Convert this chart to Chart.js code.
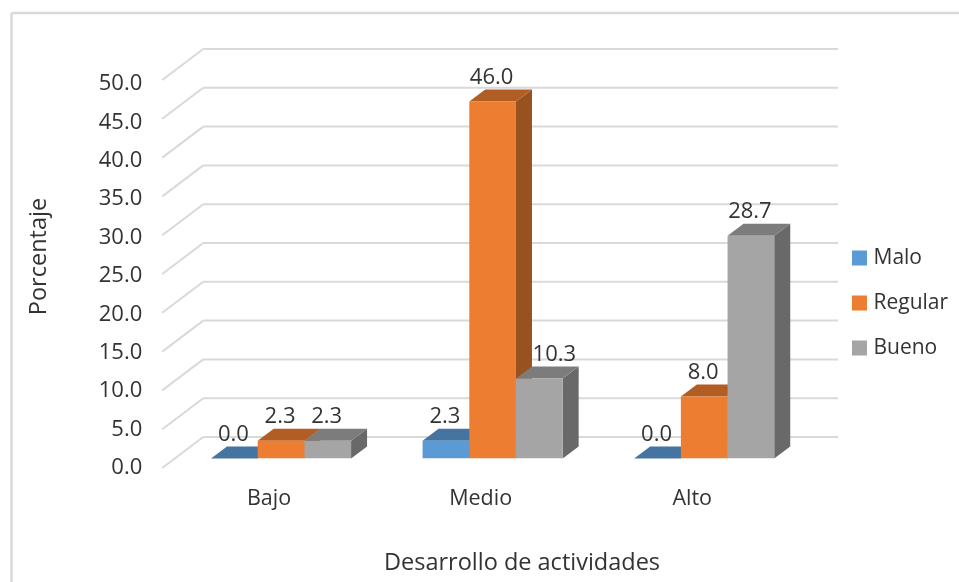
<!DOCTYPE html>
<html lang="es">
<head>
<meta charset="utf-8">
<title>Desarrollo de actividades</title>
<script src="https://cdn.jsdelivr.net/npm/chart.js@4/dist/chart.umd.min.js"></script>
<style>
  html, body { margin: 0; background: #fff; }
  canvas { display: block; }
</style>
</head>
<body>
<canvas id="grafica" width="959" height="582"></canvas>
<script>
// Datos
const categorias = ['Bajo', 'Medio', 'Alto'];
const malo = [0.0, 2.3, 0.0];
const regular = [2.3, 46.0, 8.0];
const bueno = [2.3, 10.3, 28.7];
const marcasY = [0, 5, 10, 15, 20, 25, 30, 35, 40, 45, 50];
const tituloX = 'Desarrollo de actividades';
const tituloY = 'Porcentaje';

// Colores de cada serie: frente, tapa y lateral
const colorFrente = ['#5B9BD5', '#ED7D31', '#A5A5A5'];
const colorTapa = ['#44749F', '#B15D24', '#7C7C7C'];
const colorLado = ['#3B6690', '#97521F', '#696969'];

const fuente = '"Open Sans"';
const tamFuente = 22;
const tamTitulo = 23.5;
const colorTexto = '#333333';
const colorRejilla = '#D9D9D9';

// Profundidad de las barras y de la "caja" 3D
const barraDx = 16, barraDy = 12;
const frenteDx = -13, frenteDy = 9.5;
const fondoDx = 28, fondoDy = -21.5;

function linea(ctx, x1, y1, x2, y2) {
  ctx.beginPath();
  ctx.moveTo(x1, y1);
  ctx.lineTo(x2, y2);
  ctx.stroke();
}

function cara(ctx, color, puntos) {
  ctx.fillStyle = color;
  ctx.beginPath();
  puntos.forEach(function (p, i) {
    if (i === 0) ctx.moveTo(p[0], p[1]); else ctx.lineTo(p[0], p[1]);
  });
  ctx.closePath();
  ctx.fill();
}

// Marco, rejilla en perspectiva, caras 3D, valores y titulos de ejes
const efecto3d = {
  id: 'efecto3d',
  afterLayout: function (chart) {
    // la leyenda va a la altura de las barras, no centrada
    const lg = chart.legend;
    lg.left = 856 - lg.options.labels.padding;
    lg.top = 247.5 - lg.options.labels.padding;
    lg.right = 959;
    lg.bottom = 582;
  },
  beforeDraw: function (chart) {
    const ctx = chart.ctx;
    ctx.save();
    ctx.strokeStyle = colorRejilla;
    ctx.lineWidth = 2.5;
    linea(ctx, 11.5, 13, 959, 13);
    linea(ctx, 11.5, 13, 11.5, 582);
    ctx.restore();
  },
  beforeDatasetsDraw: function (chart) {
    const ctx = chart.ctx;
    const area = chart.chartArea;
    const y = chart.scales.y;
    ctx.save();
    ctx.strokeStyle = colorRejilla;
    ctx.lineWidth = 2;
    marcasY.forEach(function (v) {
      const py = y.getPixelForValue(v);
      linea(ctx, area.left + frenteDx, py + frenteDy, area.left + fondoDx, py + fondoDy);
      linea(ctx, area.left + fondoDx, py + fondoDy, area.right + fondoDx, py + fondoDy);
    });
    // tapas y laterales, de izquierda a derecha; el frente lo pinta Chart.js encima
    categorias.forEach(function (c, j) {
      chart.data.datasets.forEach(function (ds, i) {
        const b = chart.getDatasetMeta(i).data[j];
        const izq = b.x - b.width / 2, der = b.x + b.width / 2;
        cara(ctx, colorLado[i], [[der, b.y], [der + barraDx, b.y - barraDy],
          [der + barraDx, b.base - barraDy], [der, b.base]]);
        cara(ctx, colorTapa[i], [[izq, b.y], [izq + barraDx, b.y - barraDy],
          [der + barraDx, b.y - barraDy], [der, b.y]]);
      });
    });
    ctx.restore();
  },
  afterDatasetsDraw: function (chart) {
    const ctx = chart.ctx;
    const sets = chart.data.datasets;
    ctx.save();
    ctx.fillStyle = colorTexto;
    ctx.font = tamFuente + 'px ' + fuente;
    ctx.textAlign = 'center';
    ctx.textBaseline = 'middle';
    sets.forEach(function (ds, i) {
      chart.getDatasetMeta(i).data.forEach(function (b, j) {
        // si la barra de al lado es mas alta, la etiqueta se corre para no pisarla
        const corre = i > 0 && sets[i - 1].data[j] > ds.data[j] ? 16 : 0;
        ctx.fillText(ds.data[j].toFixed(1), b.x - 1 + corre, b.y - 24);
      });
    });
    ctx.font = tamTitulo + 'px ' + fuente;
    ctx.fillText(tituloX, 522, 563);
    ctx.translate(39, 256.5);
    ctx.rotate(-Math.PI / 2);
    ctx.fillText(tituloY, 0, 0);
    ctx.restore();
  }
};

function serie(nombre, valores, i) {
  return { label: nombre, data: valores, backgroundColor: colorFrente[i], borderWidth: 0 };
}

const grafica = new Chart(document.getElementById('grafica').getContext('2d'), {
  type: 'bar',
  data: {
    labels: categorias,
    datasets: [serie('Malo', malo, 0), serie('Regular', regular, 1), serie('Bueno', bueno, 2)]
  },
  plugins: [efecto3d],
  options: {
    responsive: false,
    animation: false,
    barPercentage: 1,
    categoryPercentage: 0.662,
    layout: { padding: { top: 70.5, right: 0, bottom: 0, left: 0 } },
    font: { family: fuente },
    plugins: {
      tooltip: { enabled: false },
      title: { display: false },
      legend: {
        position: 'right',
        align: 'start',
        labels: {
          boxWidth: 7,
          boxHeight: 7,
          padding: 24,
          color: colorTexto,
          font: { family: fuente, size: 21 },
          // el borde grueso agranda el cuadrito sin separar tanto el texto
          generateLabels: function (chart) {
            return Chart.defaults.plugins.legend.labels.generateLabels(chart).map(function (it, i) {
              it.lineWidth = 8;
              it.strokeStyle = colorFrente[i];
              return it;
            });
          }
        }
      }
    },
    scales: {
      x: {
        grid: { display: false },
        border: { display: false },
        afterFit: function (ax) { ax.height = 123.5; },
        ticks: {
          color: colorTexto,
          padding: 19,
          labelOffset: -12,
          maxRotation: 0,
          font: { family: fuente, size: 21.5 }
        }
      },
      y: { display: false, min: 0, max: 50 },
      // escala solo para las etiquetas, un poco mas comprimida que la de las barras
      yEtiquetas: {
        position: 'left',
        min: 1.24,
        max: 51.76,
        grid: { display: false, drawTicks: false },
        border: { display: false },
        afterBuildTicks: function (ax) { ax.ticks = marcasY.map(function (v) { return { value: v }; }); },
        afterFit: function (ax) { ax.width = 175.25; },
        ticks: {
          color: colorTexto,
          padding: 33,
          autoSkip: false,
          font: { family: fuente, size: tamFuente },
          callback: function (v) { return Number(v).toFixed(1); }
        }
      }
    }
  }
});

// el ancho de la leyenda se conoce tras el primer calculo
grafica.options.layout.padding.right = 959 - 810 - grafica.legend.width;
grafica.update();
</script>
</body>
</html>
